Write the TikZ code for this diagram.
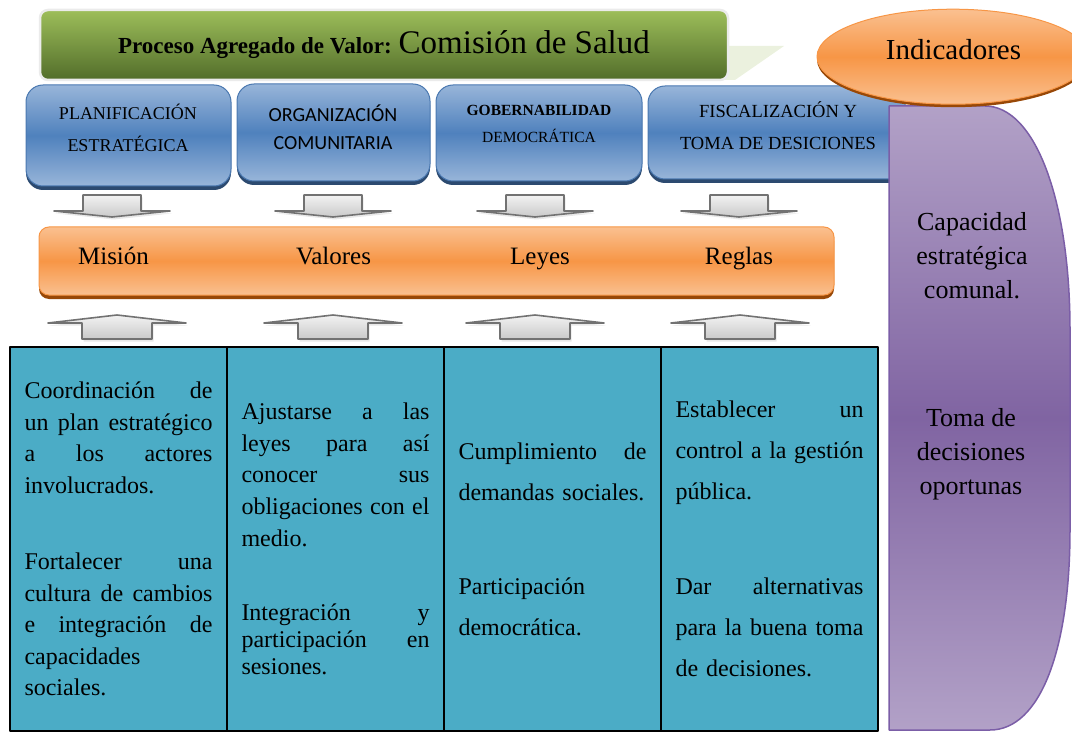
\documentclass[tikz,border=0pt]{standalone}
\usepackage{fontspec}
\setmainfont{Liberation Serif}
\newfontfamily\calibri{Carlito}
\usetikzlibrary{positioning,shadows,shapes.geometric}
\setlength{\parindent}{0pt}

\definecolor{verdeclaro}{HTML}{9DBE5A}
\definecolor{verdeoscuro}{HTML}{526D2A}
\definecolor{verdepalido}{HTML}{EBF1DE}
\definecolor{azulclaro}{HTML}{98B5D9}
\definecolor{azulmedio}{HTML}{4F81BD}
\definecolor{azulborde}{HTML}{4A78B0}
\definecolor{azulsombra}{HTML}{2C4A70}
\definecolor{naranjaclaro}{HTML}{FAC090}
\definecolor{naranja}{HTML}{F79646}
\definecolor{naranjasombra}{HTML}{984807}
\definecolor{moradoclaro}{HTML}{B2A1C7}
\definecolor{morado}{HTML}{8064A2}
\definecolor{moradoborde}{HTML}{7B5EA7}
\definecolor{celeste}{HTML}{4BACC6}
\definecolor{grisborde}{HTML}{727272}

% justified line of a cell (Word style)
\def\anchotexto{188pt}
\newcommand{\lineajust}[1]{\leavevmode\hbox to \anchotexto{\spaceskip=0.25em plus 1fil\relax #1}}

\begin{document}
\begin{tikzpicture}[x=1pt, y=-1pt, line join=round,
  titulo/.style={rounded corners=8pt, draw=black!8, line width=2.5pt,
    top color=verdeclaro, bottom color=verdeoscuro},
  caja/.style={rounded corners=17pt, draw=azulborde, line width=1pt,
    top color=azulclaro, bottom color=azulclaro, middle color=azulmedio,
    drop shadow={shadow xshift=0pt, shadow yshift=-4pt, fill=azulsombra, opacity=1}},
  txtcaja/.style={align=center, inner sep=0pt, font=\fontsize{18}{32}\selectfont},
  barra/.style={rounded corners=10pt, draw=naranja, line width=1pt,
    top color=naranjaclaro, bottom color=naranjaclaro, middle color=naranja,
    drop shadow={shadow xshift=0pt, shadow yshift=-4pt, fill=naranjasombra, opacity=1}},
  etiq/.style={inner sep=0pt, font=\fontsize{25}{30}\selectfont},
  flecha/.style={draw=grisborde, line width=1.6pt, top color=gray!10, bottom color=gray!42,
    drop shadow={shadow xshift=1.5pt, shadow yshift=-2.5pt, opacity=.18}},
  celda/.style={draw=black, line width=1.8pt, fill=celeste, outer sep=0pt,
    minimum width=217pt, minimum height=384pt, text width=\anchotexto,
    inner xsep=14.5pt, inner ysep=0pt, align=left},
  elipse/.style={ellipse, draw=naranja, line width=1pt, minimum width=272pt, minimum height=95pt,
    top color=naranjaclaro, bottom color=naranjaclaro, middle color=naranja,
    drop shadow={shadow xshift=0pt, shadow yshift=-3pt, fill=naranjasombra, opacity=1}},
  formamorada/.style={draw=moradoborde, line width=1.5pt,
    top color=moradoclaro, bottom color=moradoclaro, middle color=morado},
  txtmorado/.style={align=center, inner sep=0pt, font=\fontsize{26}{34}\selectfont}]

\useasboundingbox (0,0) rectangle (1072,733);

% --- title with its pale tail ---
\fill[verdepalido] (700,46) -- (784,46) -- (735,80) -- (700,80) -- cycle;
\node[titulo, minimum width=688pt, minimum height=70pt] (titulo) at (384,45) {};
\node[inner sep=0pt] (tituloT) at (384,44.6)
  {{\bfseries\fontsize{23}{26}\selectfont Proceso Agregado de Valor:}\hspace{7pt}{\fontsize{33}{36}\selectfont Comisión de Salud}};

% --- blue boxes ---
\node[caja, minimum width=205pt, minimum height=101pt] (plan) at (128.5,135.5) {};
\node[caja, minimum width=193pt, minimum height=97pt] (orga) at (333.5,132.5) {};
\node[caja, minimum width=206pt, minimum height=96pt] (gobe) at (539,133) {};
\node[caja, minimum width=257pt, minimum height=93pt] (fisc) at (776.5,132.5) {};

\node[txtcaja] (planT) at (128,127.5) {PLANIFICACIÓN\\ESTRATÉGICA};
\node[txtcaja, font=\calibri\fontsize{20}{28.3}\selectfont] (orgaT) at (333,127.5) {ORGANIZACIÓN\\COMUNITARIA};
\node[txtcaja, font=\fontsize{15.5}{26.7}\selectfont] (gobeT) at (539,124) {\textbf{GOBERNABILIDAD}\\DEMOCRÁTICA};
\node[txtcaja, font=\fontsize{18.5}{31.7}\selectfont] (fiscT) at (778,126) {FISCALIZACIÓN Y\\TOMA DE DESICIONES};

% --- block arrows: down to the bar, up from the table ---
\newcommand{\flechabaja}[1]{%
  \draw[flecha] (#1-29,195) -- (#1+29,195) -- (#1+29,211) -- (#1+58,211)
    -- (#1,217) -- (#1-58,211) -- (#1-29,211) -- cycle;
}
\newcommand{\flechasube}[1]{%
  \draw[flecha] (#1-35,339) -- (#1+35,339) -- (#1+35,323) -- (#1+69,323)
    -- (#1,315) -- (#1-69,323) -- (#1-35,323) -- cycle;
}
\flechabaja{112} \flechabaja{333} \flechabaja{535} \flechabaja{739}
\flechasube{117} \flechasube{333} \flechasube{535} \flechasube{740}

% --- orange bar ---
\node[barra, minimum width=795pt, minimum height=68pt] (barra) at (436.5,261) {};
\node[etiq, anchor=base] (mision) at (113.5,265) {Misión};
\node[etiq, anchor=base] (valores) at (333.5,265) {Valores};
\node[etiq, anchor=base] (leyes) at (540,265) {Leyes};
\node[etiq, anchor=base] (reglas) at (739,265) {Reglas};

% --- table ---
\node[celda, font=\fontsize{24}{31.5}\selectfont] (col1) at (118.5,539) {%
  \lineajust{Coordinación de}\\
  \lineajust{un plan estratégico}\\
  \lineajust{a los actores}\\
  involucrados.\\[45pt]
  \lineajust{Fortalecer una}\\
  \lineajust{cultura de cambios}\\
  \lineajust{e integración de}\\
  capacidades\\
  sociales.};
\node[celda, right=0pt of col1, font=\fontsize{24}{31.7}\selectfont] (col2) {%
  \lineajust{Ajustarse a las}\\
  \lineajust{leyes para así}\\
  \lineajust{conocer sus}\\
  \lineajust{obligaciones con el}\\
  medio.\\[43pt]
  \lineajust{Integración y}\\[-4.7pt]
  \lineajust{participación en}\\[-4.7pt]
  sesiones.};
\node[celda, right=0pt of col2, font=\fontsize{24}{41}\selectfont] (col3) {%
  \lineajust{Cumplimiento de}\\
  demandas sociales.\\[53pt]
  Participación\\
  democrática.};
\node[celda, right=0pt of col3, font=\fontsize{24}{41}\selectfont] (col4) {%
  \lineajust{Establecer un}\\
  \lineajust{control a la gestión}\\
  pública.\\[54pt]
  \lineajust{Dar alternativas}\\
  \lineajust{para la buena toma}\\
  de decisiones.};

% --- purple side shape ---
\draw[formamorada] (889,106) -- (985,106) .. controls (1035,106) and (1070,200) .. (1070,330)
  -- (1070,530) .. controls (1070,650) and (1040,730) .. (990,730) -- (889,730) -- cycle;
\node[txtmorado] (capacidad) at (972,255.5) {Capacidad\\estratégica\\comunal.};
\node[txtmorado] (toma) at (971,453.8) {Toma de\\decisiones\\oportunas};

% --- indicators ---
\node[elipse] (indic) at (953,56.7) {};
\node[inner sep=0pt, font=\fontsize{29}{32}\selectfont] (indicT) at (953.5,50) {Indicadores};

\end{tikzpicture}
\end{document}
